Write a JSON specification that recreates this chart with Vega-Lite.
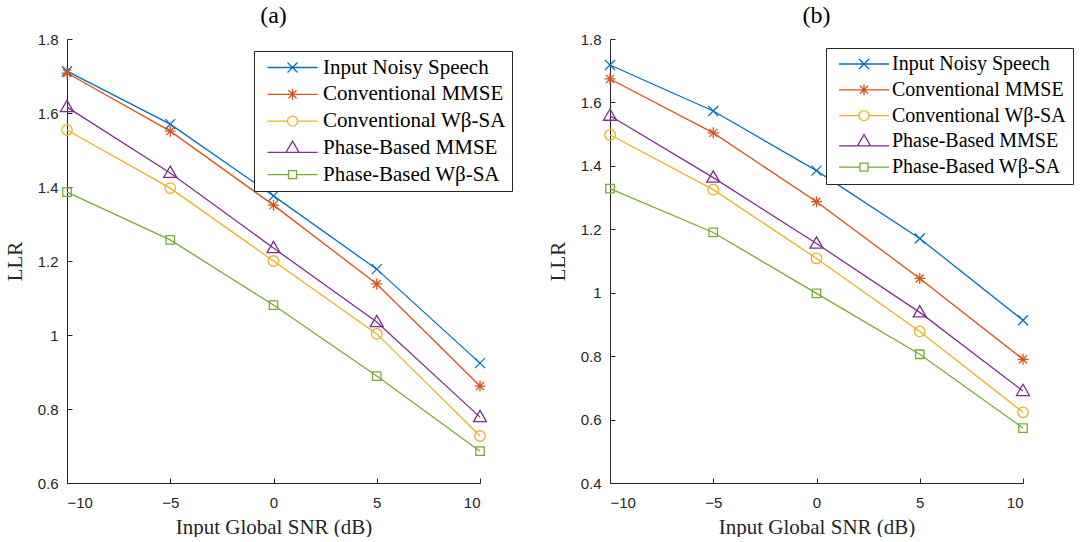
{
"$schema": "https://vega.github.io/schema/vega-lite/v6.json",
"background": "white",
"padding": {"left": 4, "top": 4, "right": 0, "bottom": 0},
"spacing": 34,
"config": {
  "view": {"stroke": null},
  "axis": {"grid": false, "domainColor": "#262626", "tickColor": "#262626", "labelFont": "Liberation Sans", "labelFontSize": 15, "labelColor": "#262626", "titleFont": "Liberation Serif", "titleFontSize": 21, "titleFontWeight": "normal", "titleColor": "#262626", "tickSize": -5},
  "axisX": {"labelPadding": 17, "titlePadding": 6},
  "axisY": {"labelPadding": 14, "titlePadding": 12},
  "legend": {"labelFont": "Liberation Serif", "labelFontSize": 21, "labelColor": "black", "strokeColor": "#262626", "fillColor": "white", "padding": 6, "symbolSize": 100, "symbolOffset": 22, "labelOffset": 20, "rowPadding": 4.8, "symbolStrokeWidth": 1.3, "labelLimit": 400},
  "title": {"font": "Liberation Serif", "fontSize": 24, "fontWeight": "normal", "color": "black", "offset": 4}
},
"datasets": {"d": [
  {"panel": "a", "method": "Input Noisy Speech", "snr": -10, "llr": 1.713},
  {"panel": "a", "method": "Input Noisy Speech", "snr": -5, "llr": 1.570},
  {"panel": "a", "method": "Input Noisy Speech", "snr": 0, "llr": 1.376},
  {"panel": "a", "method": "Input Noisy Speech", "snr": 5, "llr": 1.178},
  {"panel": "a", "method": "Input Noisy Speech", "snr": 10, "llr": 0.924},
  {"panel": "a", "method": "Conventional MMSE", "snr": -10, "llr": 1.708},
  {"panel": "a", "method": "Conventional MMSE", "snr": -5, "llr": 1.551},
  {"panel": "a", "method": "Conventional MMSE", "snr": 0, "llr": 1.351},
  {"panel": "a", "method": "Conventional MMSE", "snr": 5, "llr": 1.138},
  {"panel": "a", "method": "Conventional MMSE", "snr": 10, "llr": 0.862},
  {"panel": "a", "method": "Conventional Wβ-SA", "snr": -10, "llr": 1.554},
  {"panel": "a", "method": "Conventional Wβ-SA", "snr": -5, "llr": 1.397},
  {"panel": "a", "method": "Conventional Wβ-SA", "snr": 0, "llr": 1.200},
  {"panel": "a", "method": "Conventional Wβ-SA", "snr": 5, "llr": 1.003},
  {"panel": "a", "method": "Conventional Wβ-SA", "snr": 10, "llr": 0.727},
  {"panel": "a", "method": "Phase-Based MMSE", "snr": -10, "llr": 1.616},
  {"panel": "a", "method": "Phase-Based MMSE", "snr": -5, "llr": 1.438},
  {"panel": "a", "method": "Phase-Based MMSE", "snr": 0, "llr": 1.235},
  {"panel": "a", "method": "Phase-Based MMSE", "snr": 5, "llr": 1.035},
  {"panel": "a", "method": "Phase-Based MMSE", "snr": 10, "llr": 0.778},
  {"panel": "a", "method": "Phase-Based Wβ-SA", "snr": -10, "llr": 1.386},
  {"panel": "a", "method": "Phase-Based Wβ-SA", "snr": -5, "llr": 1.257},
  {"panel": "a", "method": "Phase-Based Wβ-SA", "snr": 0, "llr": 1.081},
  {"panel": "a", "method": "Phase-Based Wβ-SA", "snr": 5, "llr": 0.889},
  {"panel": "a", "method": "Phase-Based Wβ-SA", "snr": 10, "llr": 0.686},
  {"panel": "b", "method": "Input Noisy Speech", "snr": -10, "llr": 1.718},
  {"panel": "b", "method": "Input Noisy Speech", "snr": -5, "llr": 1.573},
  {"panel": "b", "method": "Input Noisy Speech", "snr": 0, "llr": 1.385},
  {"panel": "b", "method": "Input Noisy Speech", "snr": 5, "llr": 1.171},
  {"panel": "b", "method": "Input Noisy Speech", "snr": 10, "llr": 0.913},
  {"panel": "b", "method": "Conventional MMSE", "snr": -10, "llr": 1.674},
  {"panel": "b", "method": "Conventional MMSE", "snr": -5, "llr": 1.504},
  {"panel": "b", "method": "Conventional MMSE", "snr": 0, "llr": 1.287},
  {"panel": "b", "method": "Conventional MMSE", "snr": 5, "llr": 1.045},
  {"panel": "b", "method": "Conventional MMSE", "snr": 10, "llr": 0.790},
  {"panel": "b", "method": "Conventional Wβ-SA", "snr": -10, "llr": 1.498},
  {"panel": "b", "method": "Conventional Wβ-SA", "snr": -5, "llr": 1.325},
  {"panel": "b", "method": "Conventional Wβ-SA", "snr": 0, "llr": 1.108},
  {"panel": "b", "method": "Conventional Wβ-SA", "snr": 5, "llr": 0.878},
  {"panel": "b", "method": "Conventional Wβ-SA", "snr": 10, "llr": 0.623},
  {"panel": "b", "method": "Phase-Based MMSE", "snr": -10, "llr": 1.558},
  {"panel": "b", "method": "Phase-Based MMSE", "snr": -5, "llr": 1.363},
  {"panel": "b", "method": "Phase-Based MMSE", "snr": 0, "llr": 1.155},
  {"panel": "b", "method": "Phase-Based MMSE", "snr": 5, "llr": 0.938},
  {"panel": "b", "method": "Phase-Based MMSE", "snr": 10, "llr": 0.690},
  {"panel": "b", "method": "Phase-Based Wβ-SA", "snr": -10, "llr": 1.328},
  {"panel": "b", "method": "Phase-Based Wβ-SA", "snr": -5, "llr": 1.190},
  {"panel": "b", "method": "Phase-Based Wβ-SA", "snr": 0, "llr": 0.998},
  {"panel": "b", "method": "Phase-Based Wβ-SA", "snr": 5, "llr": 0.806},
  {"panel": "b", "method": "Phase-Based Wβ-SA", "snr": 10, "llr": 0.573}
]},
"hconcat": [
{
  "width": 413, "height": 444,
  "title": "(a)",
  "data": {"name": "d"},
  "transform": [{"filter": "datum.panel == 'a'"}],
  "encoding": {
    "x": {"field": "snr", "type": "quantitative", "title": "Input Global SNR (dB)", "scale": {"domain": [-10, 10], "nice": false}, "axis": {"values": [-10, -5, 0, 5, 10]}},
    "y": {"field": "llr", "type": "quantitative", "title": "LLR", "scale": {"domain": [0.6, 1.8], "nice": false, "zero": false}, "axis": {"values": [0.6, 0.8, 1, 1.2, 1.4, 1.6, 1.8], "format": "~g"}}
  },
  "layer": [
    {"mark": {"type": "line", "strokeWidth": 1.3},
     "encoding": {"color": {"field": "method", "type": "nominal", "legend": null, "scale": {"domain": ["Input Noisy Speech", "Conventional MMSE", "Conventional Wβ-SA", "Phase-Based MMSE", "Phase-Based Wβ-SA"], "range": ["#0072BD", "#D95319", "#EDB120", "#7E2F8E", "#77AC30"]}}}},
    {"mark": {"type": "point", "filled": false, "size": 100, "strokeWidth": 1.3, "opacity": 1},
     "encoding": {
       "color": {"field": "method", "type": "nominal", "legend": null, "scale": {"domain": ["Input Noisy Speech", "Conventional MMSE", "Conventional Wβ-SA", "Phase-Based MMSE", "Phase-Based Wβ-SA"], "range": ["#0072BD", "#D95319", "#EDB120", "#7E2F8E", "#77AC30"]}},
       "shape": {"field": "method", "type": "nominal", "legend": null, "scale": {"domain": ["Input Noisy Speech", "Conventional MMSE", "Conventional Wβ-SA", "Phase-Based MMSE", "Phase-Based Wβ-SA"], "range": ["M-1,-1L1,1M-1,1L1,-1", "M-1.1,0L1.1,0M0,-1.1L0,1.1M-0.8,-0.8L0.8,0.8M-0.8,0.8L0.8,-0.8", "M-1.05,0A1.05,1.05 0 1,0 1.05,0A1.05,1.05 0 1,0 -1.05,0Z", "M0,-1.35L1.3,0.9L-1.3,0.9Z", "M-0.85,-0.85L0.85,-0.85L0.85,0.85L-0.85,0.85Z"]}}
     }},
    {"transform": [{"filter": "datum.snr > 100"}],
     "mark": {"type": "point", "filled": false, "size": 100, "strokeWidth": 1.3, "opacity": 1},
     "encoding": {
       "color": {"field": "method", "type": "nominal", "title": null, "scale": {"domain": ["Input Noisy Speech", "Conventional MMSE", "Conventional Wβ-SA", "Phase-Based MMSE", "Phase-Based Wβ-SA"], "range": ["#0072BD", "#D95319", "#EDB120", "#7E2F8E", "#77AC30"]}, "legend": {"orient": "none", "legendX": 187, "legendY": 12}},
       "shape": {"field": "method", "type": "nominal", "title": null, "scale": {"domain": ["Input Noisy Speech", "Conventional MMSE", "Conventional Wβ-SA", "Phase-Based MMSE", "Phase-Based Wβ-SA"], "range": ["M-5,0L5,0M-1,-1L1,1M-1,1L1,-1", "M-5,0L5,0M0,-1.1L0,1.1M-0.8,-0.8L0.8,0.8M-0.8,0.8L0.8,-0.8", "M-5,0L-1,0M1,0L5,0M-1,0A1,1 0 1,0 1,0A1,1 0 1,0 -1,0Z", "M-5,0.9L-1.3,0.9M1.3,0.9L5,0.9M0,-1.35L1.3,0.9L-1.3,0.9Z", "M-5,0L-0.8,0M0.8,0L5,0M-0.8,-0.8L0.8,-0.8L0.8,0.8L-0.8,0.8Z"]}, "legend": {"orient": "none", "legendX": 187, "legendY": 12}}
     }}
  ],
  "resolve": {"scale": {"color": "independent", "shape": "independent"}}
},
{
  "width": 413, "height": 444,
  "title": "(b)",
  "data": {"name": "d"},
  "transform": [{"filter": "datum.panel == 'b'"}],
  "encoding": {
    "x": {"field": "snr", "type": "quantitative", "title": "Input Global SNR (dB)", "scale": {"domain": [-10, 10], "nice": false}, "axis": {"values": [-10, -5, 0, 5, 10]}},
    "y": {"field": "llr", "type": "quantitative", "title": "LLR", "scale": {"domain": [0.4, 1.8], "nice": false, "zero": false}, "axis": {"values": [0.4, 0.6, 0.8, 1, 1.2, 1.4, 1.6, 1.8], "format": "~g"}}
  },
  "layer": [
    {"mark": {"type": "line", "strokeWidth": 1.3},
     "encoding": {"color": {"field": "method", "type": "nominal", "legend": null, "scale": {"domain": ["Input Noisy Speech", "Conventional MMSE", "Conventional Wβ-SA", "Phase-Based MMSE", "Phase-Based Wβ-SA"], "range": ["#0072BD", "#D95319", "#EDB120", "#7E2F8E", "#77AC30"]}}}},
    {"mark": {"type": "point", "filled": false, "size": 100, "strokeWidth": 1.3, "opacity": 1},
     "encoding": {
       "color": {"field": "method", "type": "nominal", "legend": null, "scale": {"domain": ["Input Noisy Speech", "Conventional MMSE", "Conventional Wβ-SA", "Phase-Based MMSE", "Phase-Based Wβ-SA"], "range": ["#0072BD", "#D95319", "#EDB120", "#7E2F8E", "#77AC30"]}},
       "shape": {"field": "method", "type": "nominal", "legend": null, "scale": {"domain": ["Input Noisy Speech", "Conventional MMSE", "Conventional Wβ-SA", "Phase-Based MMSE", "Phase-Based Wβ-SA"], "range": ["M-1,-1L1,1M-1,1L1,-1", "M-1.1,0L1.1,0M0,-1.1L0,1.1M-0.8,-0.8L0.8,0.8M-0.8,0.8L0.8,-0.8", "M-1.05,0A1.05,1.05 0 1,0 1.05,0A1.05,1.05 0 1,0 -1.05,0Z", "M0,-1.35L1.3,0.9L-1.3,0.9Z", "M-0.85,-0.85L0.85,-0.85L0.85,0.85L-0.85,0.85Z"]}}
     }},
    {"transform": [{"filter": "datum.snr > 100"}],
     "mark": {"type": "point", "filled": false, "size": 100, "strokeWidth": 1.3, "opacity": 1},
     "encoding": {
       "color": {"field": "method", "type": "nominal", "title": null, "scale": {"domain": ["Input Noisy Speech", "Conventional MMSE", "Conventional Wβ-SA", "Phase-Based MMSE", "Phase-Based Wβ-SA"], "range": ["#0072BD", "#D95319", "#EDB120", "#7E2F8E", "#77AC30"]}, "legend": {"orient": "none", "legendX": 216, "legendY": 9, "labelFontSize": 20, "rowPadding": 5.8, "labelOffset": 18}},
       "shape": {"field": "method", "type": "nominal", "title": null, "scale": {"domain": ["Input Noisy Speech", "Conventional MMSE", "Conventional Wβ-SA", "Phase-Based MMSE", "Phase-Based Wβ-SA"], "range": ["M-5,0L5,0M-1,-1L1,1M-1,1L1,-1", "M-5,0L5,0M0,-1.1L0,1.1M-0.8,-0.8L0.8,0.8M-0.8,0.8L0.8,-0.8", "M-5,0L-1,0M1,0L5,0M-1,0A1,1 0 1,0 1,0A1,1 0 1,0 -1,0Z", "M-5,0.9L-1.3,0.9M1.3,0.9L5,0.9M0,-1.35L1.3,0.9L-1.3,0.9Z", "M-5,0L-0.8,0M0.8,0L5,0M-0.8,-0.8L0.8,-0.8L0.8,0.8L-0.8,0.8Z"]}, "legend": {"orient": "none", "legendX": 216, "legendY": 9, "labelFontSize": 20, "rowPadding": 5.8, "labelOffset": 18}}
     }}
  ],
  "resolve": {"scale": {"color": "independent", "shape": "independent"}}
}
]
}
